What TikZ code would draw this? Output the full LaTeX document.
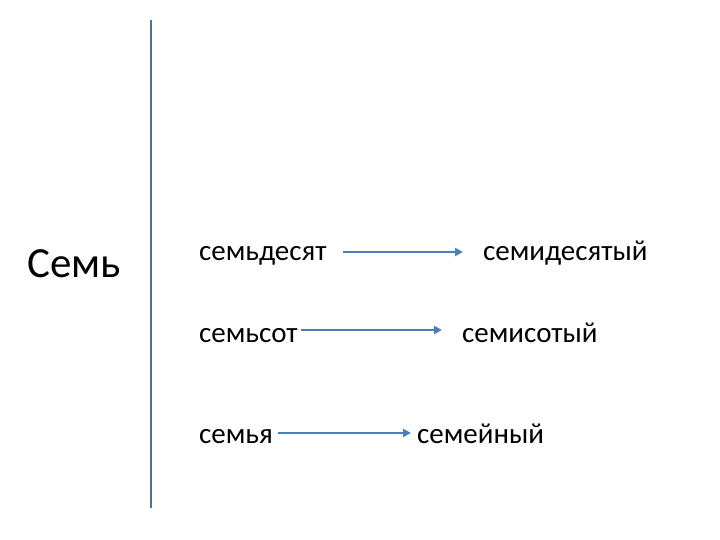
\documentclass[tikz,border=0pt]{standalone}
\usepackage{fontspec}
\setmainfont{Carlito}
\usetikzlibrary{arrows.meta}
\definecolor{divblue}{HTML}{56708C}
\definecolor{arrblue}{HTML}{4A7EBB}
\begin{document}
\begin{tikzpicture}[x=1pt,y=-1pt,
  word/.style={anchor=base west, inner sep=0pt, font=\fontsize{29}{35}\selectfont},
  bigword/.style={word, font=\fontsize{43}{50}\selectfont},
  divider/.style={draw=divblue, line width=2pt},
  conn/.style={draw=arrblue, line width=2pt, -{Triangle[length=8pt,width=8pt]}}]
\useasboundingbox (0,0) rectangle (720,540);
\fill[white] (0,0) rectangle (720,540);
\node[bigword] (sem) at (27,277) {Семь};
\coordinate (vtop) at (151,20);
\coordinate (vbot) at (151,508);
\draw[divider] (vtop) -- (vbot);
\node[word] (a1) at (199,260) {семьдесят};
\node[word] (b1) at (483,260) {семидесятый};
\node[word] (a2) at (199,342) {семьсот};
\node[word] (b2) at (462,342) {семисотый};
\node[word] (a3) at (199,443) {семья};
\node[word] (b3) at (417,443) {семейный};
\coordinate (s1) at (343,252); \coordinate (e1) at (463,252);
\coordinate (s2) at (301,330); \coordinate (e2) at (442,330);
\coordinate (s3) at (278,433); \coordinate (e3) at (411,433);
\draw[conn] (s1) -- (e1);
\draw[conn] (s2) -- (e2);
\draw[conn] (s3) -- (e3);
\end{tikzpicture}
\end{document}
